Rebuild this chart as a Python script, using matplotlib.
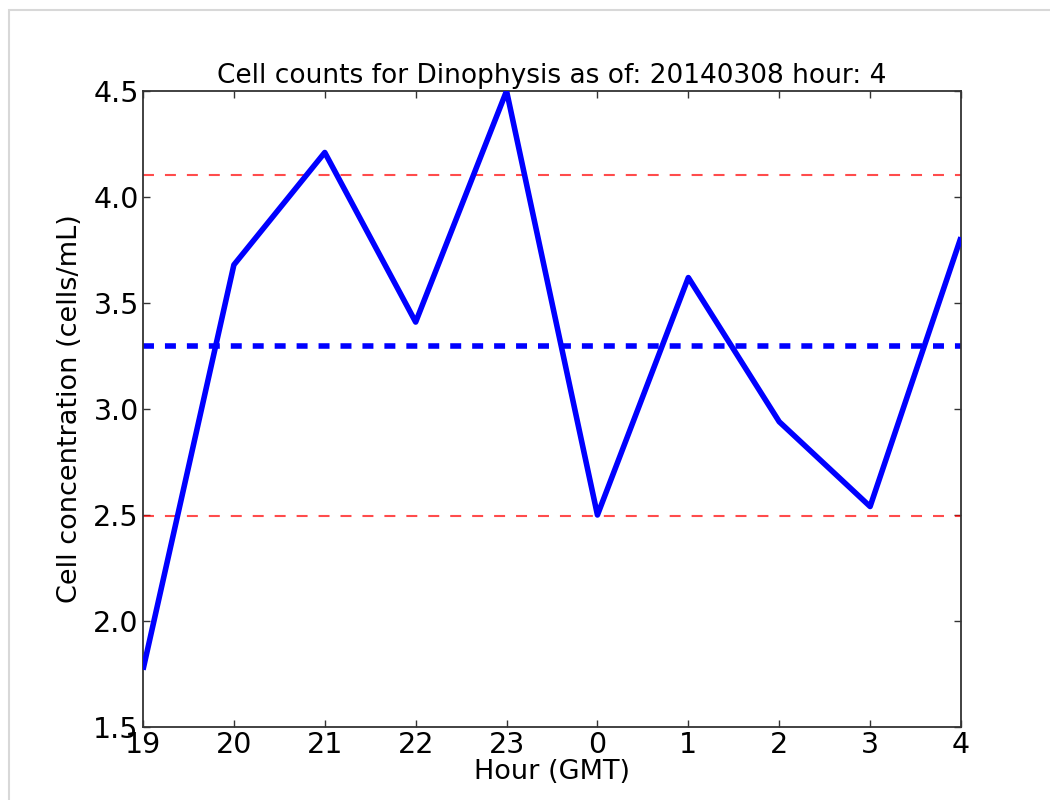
import matplotlib
matplotlib.use("Agg")
import matplotlib.pyplot as plt
from matplotlib.patches import Rectangle
import numpy as np

hours = ["19", "20", "21", "22", "23", "0", "1", "2", "3", "4"]
counts = [1.77, 3.68, 4.21, 3.41, 4.50, 2.50, 3.62, 2.94, 2.54, 3.81]
yticks = [1.5, 2.0, 2.5, 3.0, 3.5, 4.0, 4.5]

plt.rcParams['font.family'] = ['DejaVu Sans']
plt.rcParams['lines.scale_dashes'] = False

W, H = 1050, 800
fig = plt.figure(figsize=(W / 100, H / 100), dpi=100)
fig.patches.append(Rectangle((9 / W, -0.1), 1.2, 1 - 10 / H + 0.1,
                             transform=fig.transFigure, fill=False,
                             edgecolor='#d8d8d8', linewidth=1.5))

ax = fig.add_axes([143 / W, 1 - 727 / H, (961 - 143) / W, (727 - 91) / H])

x = np.arange(len(hours))
vals = np.array(counts)
mean = vals.mean()
std = vals.std()

ax.plot(x, vals, color=(0, 0, 1), linewidth=4, solid_capstyle='butt', zorder=3)
ax.axhline(mean, color=(0, 0, 1), linewidth=4, linestyle=(0, (7.9, 7.9)),
           dash_capstyle='butt', zorder=2)
ax.axhline(mean + std, color=(1, 0, 0), alpha=0.7, linewidth=1.5,
           linestyle=(0, (7.9, 7.9)), dash_capstyle='butt', zorder=2)
ax.axhline(mean - std, color=(1, 0, 0), alpha=0.7, linewidth=1.5,
           linestyle=(0, (7.9, 7.9)), dash_capstyle='butt', zorder=2)

ax.set_xlim(0, len(hours) - 1)
ax.set_ylim(1.5, 4.5)
ax.set_xticks(x)
ax.set_xticklabels(hours)
ax.set_yticks(yticks)
ax.set_yticklabels([f"{v:.1f}" for v in yticks])

ax.tick_params(axis='both', which='major', direction='in', length=5, width=1,
               labelsize=20.5, top=True, right=True, pad=3, color='#333333')
for s in ax.spines.values():
    s.set_linewidth(1.3)
    s.set_color('#333333')

ax.set_title("Cell counts for Dinophysis as of: 20140308 hour: 4",
             fontsize=19, pad=6)
ax.set_xlabel("Hour (GMT)", fontsize=19.5, labelpad=0)
ax.set_ylabel("Cell concentration (cells/mL)", fontsize=19.5, labelpad=7)

fig.savefig("out.png", dpi=100)
